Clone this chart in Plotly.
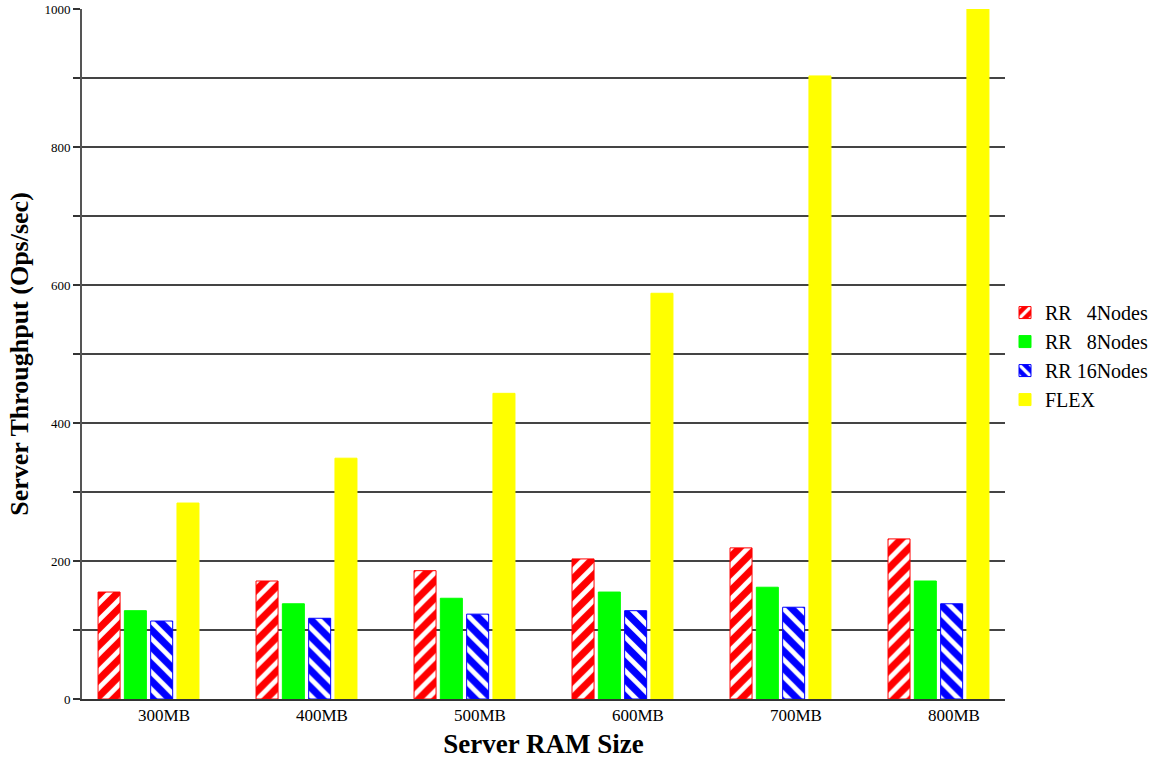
import plotly.graph_objects as go

categories = ["300MB", "400MB", "500MB", "600MB", "700MB", "800MB"]
rr4 = [155, 171, 186, 203, 219, 232]
rr8 = [128, 138, 146, 155, 162, 171]
rr16 = [113, 117, 123, 128, 133, 138]
flex = [284, 349, 443, 588, 903, 1000]

series_names = ["RR\u00a0\u00a0\u00a04Nodes", "RR\u00a0\u00a0\u00a08Nodes", "RR 16Nodes", "FLEX"]
y_tickvals = list(range(0, 1001, 100))
y_ticktext = [str(v) if v % 200 == 0 else "" for v in y_tickvals]

xpos = list(range(len(categories)))
FONT = "Liberation Serif, Times New Roman, serif"

fig = go.Figure()
fig.add_trace(go.Bar(
    x=xpos, y=rr4, name=series_names[0],
    marker=dict(color="#ff0000", line=dict(color="#ff0000", width=1),
                pattern=dict(shape="/", fgcolor="white", fgopacity=1, size=12, solidity=0.4)),
))
fig.add_trace(go.Bar(
    x=xpos, y=rr8, name=series_names[1],
    marker=dict(color="#00ff00", line=dict(color="#00ff00", width=1)),
))
fig.add_trace(go.Bar(
    x=xpos, y=rr16, name=series_names[2],
    marker=dict(color="#0000ff", line=dict(color="#0000ff", width=1),
                pattern=dict(shape="\\", fgcolor="white", fgopacity=1, size=12, solidity=0.4)),
))
fig.add_trace(go.Bar(
    x=xpos, y=flex, name=series_names[3],
    marker=dict(color="#ffff00", line=dict(color="#ffff00", width=1)),
))

fig.update_layout(
    width=1174, height=763,
    margin=dict(l=82, r=169, t=9, b=64, autoexpand=False),
    paper_bgcolor="white", plot_bgcolor="white",
    barmode="group", bargap=0.334, bargroupgap=0.163,
    font=dict(family=FONT, color="black"),
    showlegend=True,
    legend=dict(x=1.0, y=0.497, xanchor="left", yanchor="middle",
                font=dict(family=FONT, size=20, color="black"),
                bgcolor="rgba(0,0,0,0)", tracegroupgap=0),
)
fig.update_xaxes(
    range=[-0.421, 5.421],
    tickmode="array",
    tickvals=[i + 0.098 for i in xpos],
    ticktext=categories,
    ticks="", showgrid=False, zeroline=False,
    showline=True, linecolor="#333", linewidth=2,
    tickfont=dict(family=FONT, size=17, color="black"),
    automargin=False,
    title=dict(text="<b>Server RAM Size</b>", font=dict(family=FONT, size=27, color="black"), standoff=10),
)
fig.update_yaxes(
    range=[0, 1000],
    tickmode="array", tickvals=y_tickvals, ticktext=y_ticktext,
    ticks="outside", ticklen=7, tickcolor="#333", tickwidth=1.5,
    showgrid=True, gridcolor="#444", gridwidth=1.5, zeroline=False,
    showline=True, linecolor="#555", linewidth=2,
    tickfont=dict(family=FONT, size=13, color="black"),
    automargin=False,
    title=dict(text="<b>Server Throughput (Ops/sec)</b>", font=dict(family=FONT, size=26, color="black"), standoff=8),
)

fig.write_html(
    "out.html",
    config={"displayModeBar": False},
    post_script="document.body.style.margin='0px';document.body.style.overflow='hidden';",
)
